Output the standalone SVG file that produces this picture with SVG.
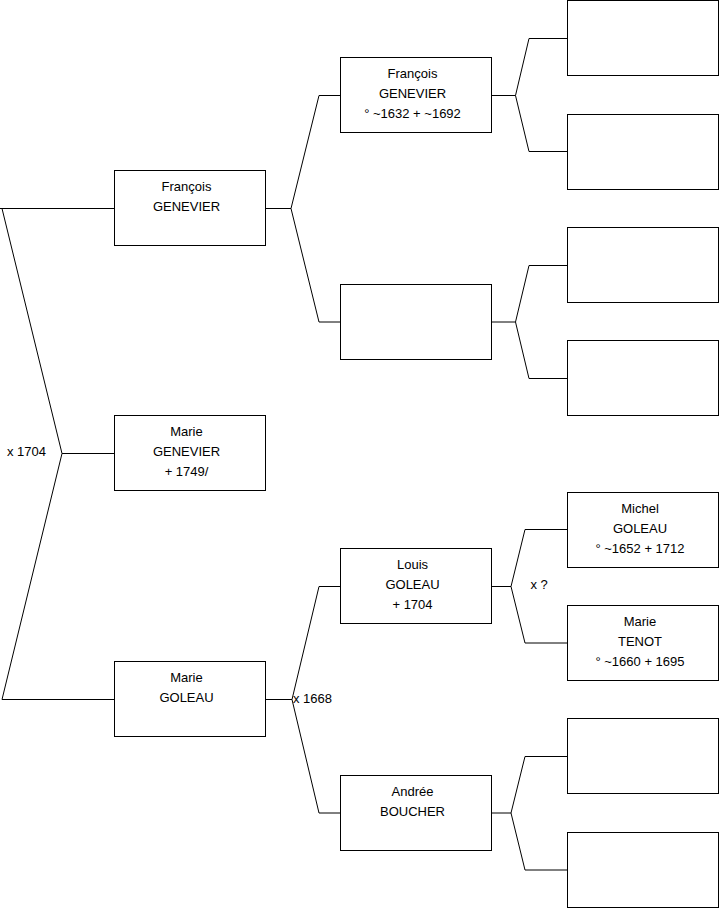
<svg xmlns="http://www.w3.org/2000/svg" width="719" height="908" viewBox="0 0 719 908">
<style>
.box{fill:#fff;stroke:#000;stroke-width:1}
.c{fill:none;stroke:#000;stroke-width:1}
text{font-family:"Liberation Sans",Arial,sans-serif;font-size:13px;fill:#000}
.t{text-anchor:middle}
</style>
<rect width="719" height="908" fill="#fff"/>
<g id="connectors">
<path class="c" d="M0,208.5 H114.5 M2,208.5 L62,453.5 L2,699.5 H114.5 M62,453.5 H114.5"/>
<path class="c" d="M265.5,208.5 H291 L319,95.5 H340.5 M291,208.5 L319,322 H340.5"/>
<path class="c" d="M491.5,95.5 H515.5 L529,38.5 H567.5 M515.5,95.5 L529,151.5 H567.5"/>
<path class="c" d="M491.5,322 H515.5 L529,265.5 H567.5 M515.5,322 L529,378.5 H567.5"/>
<path class="c" d="M265.5,699.5 H292 L319,586.5 H340.5 M292,699.5 L319,813 H340.5"/>
<path class="c" d="M491.5,586.5 H511 L525,529.5 H567.5 M511,586.5 L525,643 H567.5"/>
<path class="c" d="M491.5,813 H511 L525,756.5 H567.5 M511,813 L525,870 H567.5"/>
<text x="7" y="456">x 1704</text>
<text x="293" y="703">x 1668</text>
<text x="530.5" y="589">x ?</text>
</g>
<g id="francois-genevier-1">
<rect class="box" x="114.5" y="170.5" width="151" height="75"/>
<text class="t" x="186.5" y="191">François</text>
<text class="t" x="186.5" y="211">GENEVIER</text>
</g>
<g id="marie-genevier">
<rect class="box" x="114.5" y="415.5" width="151" height="75"/>
<text class="t" x="186.5" y="436">Marie</text>
<text class="t" x="186.5" y="456">GENEVIER</text>
<text class="t" x="186.5" y="476">+ 1749/</text>
</g>
<g id="marie-goleau">
<rect class="box" x="114.5" y="661.5" width="151" height="75"/>
<text class="t" x="186.5" y="682">Marie</text>
<text class="t" x="186.5" y="702">GOLEAU</text>
</g>
<g id="francois-genevier-2">
<rect class="box" x="340.5" y="57.5" width="151" height="75"/>
<text class="t" x="412.5" y="78">François</text>
<text class="t" x="412.5" y="98">GENEVIER</text>
<text class="t" x="412.5" y="118">° ~1632 + ~1692</text>
</g>
<g id="unknown-mother-1">
<rect class="box" x="340.5" y="284.5" width="151" height="75"/>
</g>
<g id="louis-goleau">
<rect class="box" x="340.5" y="548.5" width="151" height="75"/>
<text class="t" x="412.5" y="569">Louis</text>
<text class="t" x="412.5" y="589">GOLEAU</text>
<text class="t" x="412.5" y="609">+ 1704</text>
</g>
<g id="andree-boucher">
<rect class="box" x="340.5" y="775.5" width="151" height="75"/>
<text class="t" x="412.5" y="796">Andrée</text>
<text class="t" x="412.5" y="816">BOUCHER</text>
</g>
<g id="gen3-1"><rect class="box" x="567.5" y="0.5" width="151" height="75"/></g>
<g id="gen3-2"><rect class="box" x="567.5" y="114.5" width="151" height="75"/></g>
<g id="gen3-3"><rect class="box" x="567.5" y="227.5" width="151" height="75"/></g>
<g id="gen3-4"><rect class="box" x="567.5" y="340.5" width="151" height="75"/></g>
<g id="michel-goleau">
<rect class="box" x="567.5" y="492.5" width="151" height="75"/>
<text class="t" x="640" y="513">Michel</text>
<text class="t" x="640" y="533">GOLEAU</text>
<text class="t" x="640" y="553">° ~1652 + 1712</text>
</g>
<g id="marie-tenot">
<rect class="box" x="567.5" y="605.5" width="151" height="75"/>
<text class="t" x="640" y="626">Marie</text>
<text class="t" x="640" y="646">TENOT</text>
<text class="t" x="640" y="666">° ~1660 + 1695</text>
</g>
<g id="gen3-7"><rect class="box" x="567.5" y="718.5" width="151" height="75"/></g>
<g id="gen3-8"><rect class="box" x="567.5" y="832.5" width="151" height="75"/></g>
</svg>
